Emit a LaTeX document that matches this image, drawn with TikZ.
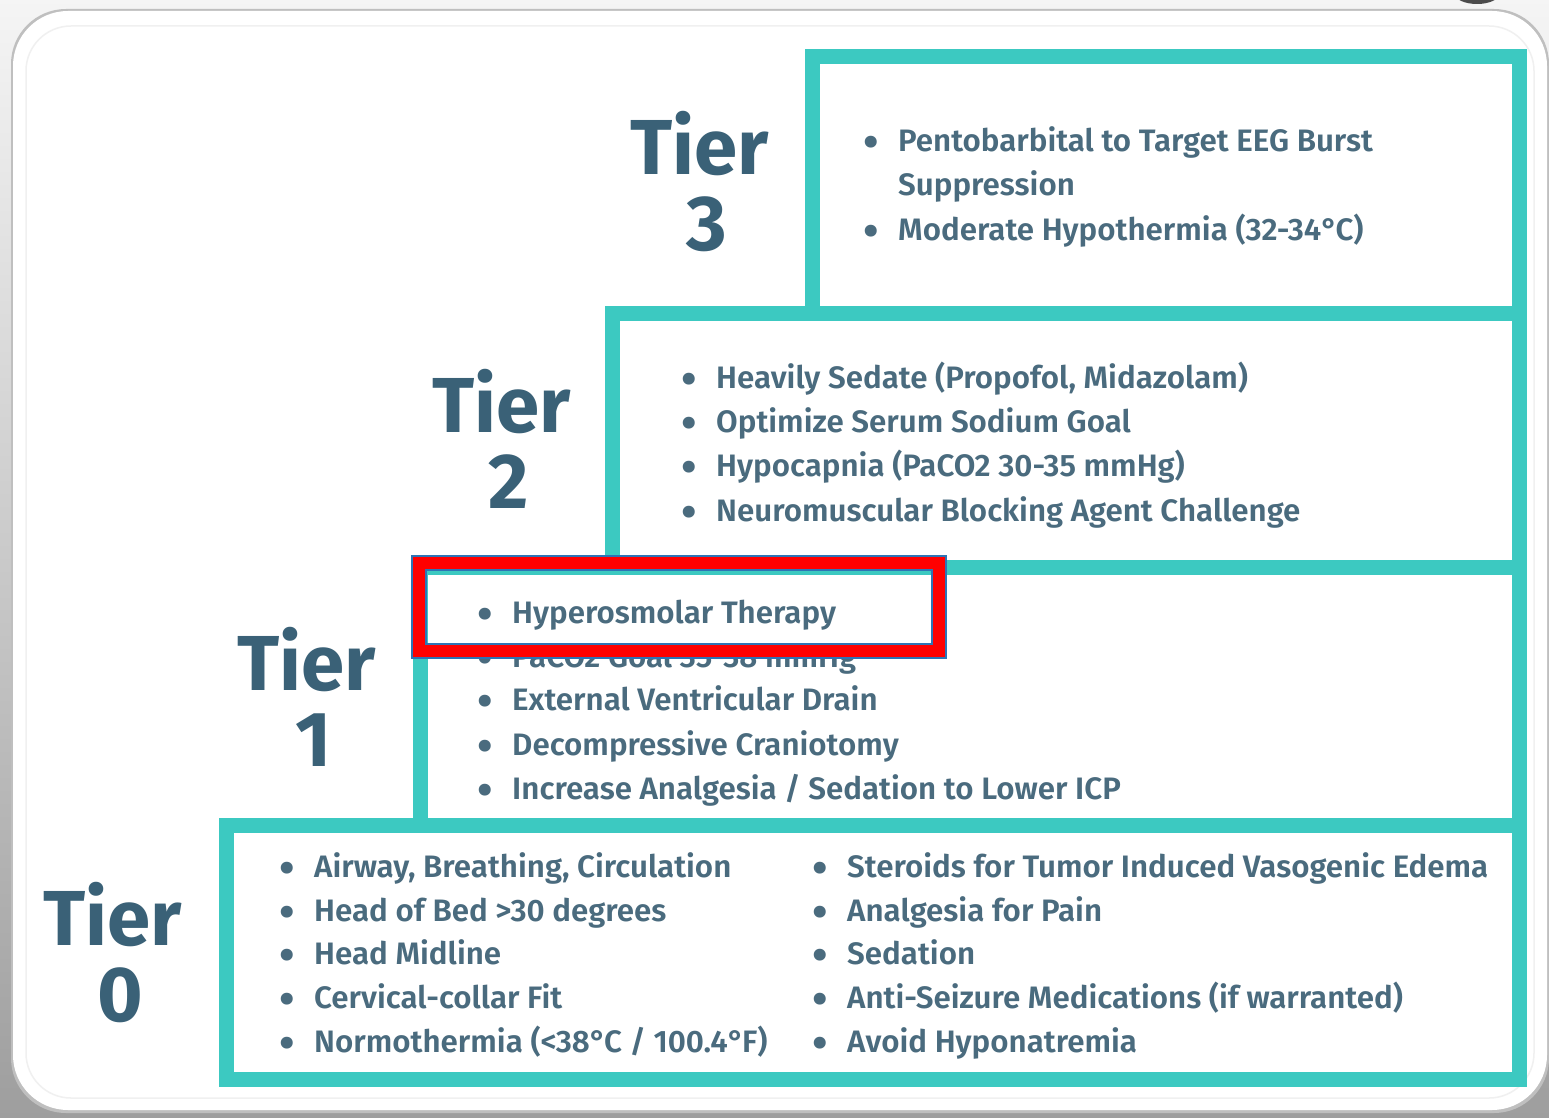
\documentclass[tikz,border=0pt]{standalone}
\usepackage{fontspec}
\setmainfont{Fira Sans}
\newfontfamily\tierfont{Fira Sans Bold}
\newfontfamily\listfont{Fira Sans SemiBold}[FakeStretch=1.01]
\definecolor{teal1}{HTML}{3CC9C1}
\definecolor{headc}{HTML}{3A6177}
\definecolor{listc}{HTML}{4A6B7E}
\definecolor{redbox}{HTML}{FF0000}
\definecolor{bluebox}{HTML}{2E74B5}
\tikzset{
  tierbox/.style={draw=teal1, line width=15pt, line join=miter},
  tierlbl/.style={anchor=base, inner sep=0pt, text=headc, font=\tierfont\fontsize{78}{78}\selectfont},
  item/.style={anchor=base west, inner sep=0pt, text=listc, font=\listfont\fontsize{31}{31}\selectfont},
}
\newcommand{\bul}{\llap{\makebox[0pt][c]{\raisebox{-6pt}{\scalebox{1.45}{•}}}\hspace{27pt}}}
\newcommand{\dg}{°\kern-2pt}
\begin{document}
\begin{tikzpicture}[x=1pt,y=-1pt]
\useasboundingbox (0,0) rectangle (1549,1118);
% background
\shade[top color=black!4, bottom color=black!38] (0,0) rectangle (1549,1118);
\fill[black!70] (1477,-6) ellipse (22 and 10);
% panel
\fill[black!25, rounded corners=55] (11,9) rectangle (1549,1113);
\fill[white, rounded corners=55] (13,11) rectangle (1547,1110);
\draw[black!6, line width=1.5pt, rounded corners=45] (26,26) rectangle (1534,1098);
% tier boxes
\draw[tierbox] (226,825) rectangle (1519,1079);
\draw[tierbox] (420,567) rectangle (1519,825);
\draw[tierbox] (612,313) rectangle (1519,567);
\draw[tierbox] (812,57) rectangle (1519,313);
% tier labels
\node[tierlbl] (t3a) at (700,175) {Tier};
\node[tierlbl] (t3b) at (707,250) {3};
\node[tierlbl] (t2a) at (502,432) {Tier};
\node[tierlbl] (t2b) at (509,508) {2};
\node[tierlbl] (t1a) at (307,690) {Tier};
\node[tierlbl] (t1b) at (314,766) {1};
\node[tierlbl] (t0a) at (113,945) {Tier};
\node[tierlbl] (t0b) at (120,1021) {0};
% tier 3
\node[item] (i31) at (898,152) {\bul Pentobarbital to Target EEG Burst};
\node[item] (i32) at (898,196) {Suppression};
\node[item] (i33) at (898,240) {\bul Moderate Hypothermia (32-34\dg C)};
% tier 2
\node[item] (i21) at (716,388) {\bul Heavily Sedate (Propofol, Midazolam)};
\node[item] (i22) at (716,432) {\bul Optimize Serum Sodium Goal};
\node[item] (i23) at (716,476) {\bul Hypocapnia (PaCO2 30-35 mmHg)};
\node[item] (i24) at (716,521) {\bul Neuromuscular Blocking Agent Challenge};
% tier 1
\node[item] (i11) at (512,623) {\bul Hyperosmolar Therapy};
\node[item] (i12) at (512,667) {\bul PaCO2 Goal 35-38 mmHg};
\node[item] (i13) at (512,710) {\bul External Ventricular Drain};
\node[item] (i14) at (512,755) {\bul Decompressive Craniotomy};
\node[item] (i15) at (512,799) {\bul Increase Analgesia / Sedation to Lower ICP};
% tier 0 left
\node[item] (i01) at (314,877) {\bul Airway, Breathing, Circulation};
\node[item] (i02) at (314,921) {\bul Head of Bed >30 degrees};
\node[item] (i03) at (314,964) {\bul Head Midline};
\node[item] (i04) at (314,1008) {\bul Cervical-collar Fit};
\node[item] (i05) at (314,1052) {\bul Normothermia (<38\dg C / 100.4\dg F)};
% tier 0 right
\node[item] (i06) at (847,877) {\bul Steroids for Tumor Induced Vasogenic Edema};
\node[item] (i07) at (847,921) {\bul Analgesia for Pain};
\node[item] (i08) at (847,964) {\bul Sedation};
\node[item] (i09) at (847,1008) {\bul Anti-Seizure Medications (if warranted)};
\node[item] (i10) at (847,1052) {\bul Avoid Hyponatremia};
% highlight box
\draw[redbox, line width=14pt, line join=miter] (419,563) rectangle (939,651);
\draw[bluebox, line width=2pt] (412,556) rectangle (946,658);
\draw[bluebox, line width=2pt] (426,570) rectangle (932,644);
\end{tikzpicture}
\end{document}
